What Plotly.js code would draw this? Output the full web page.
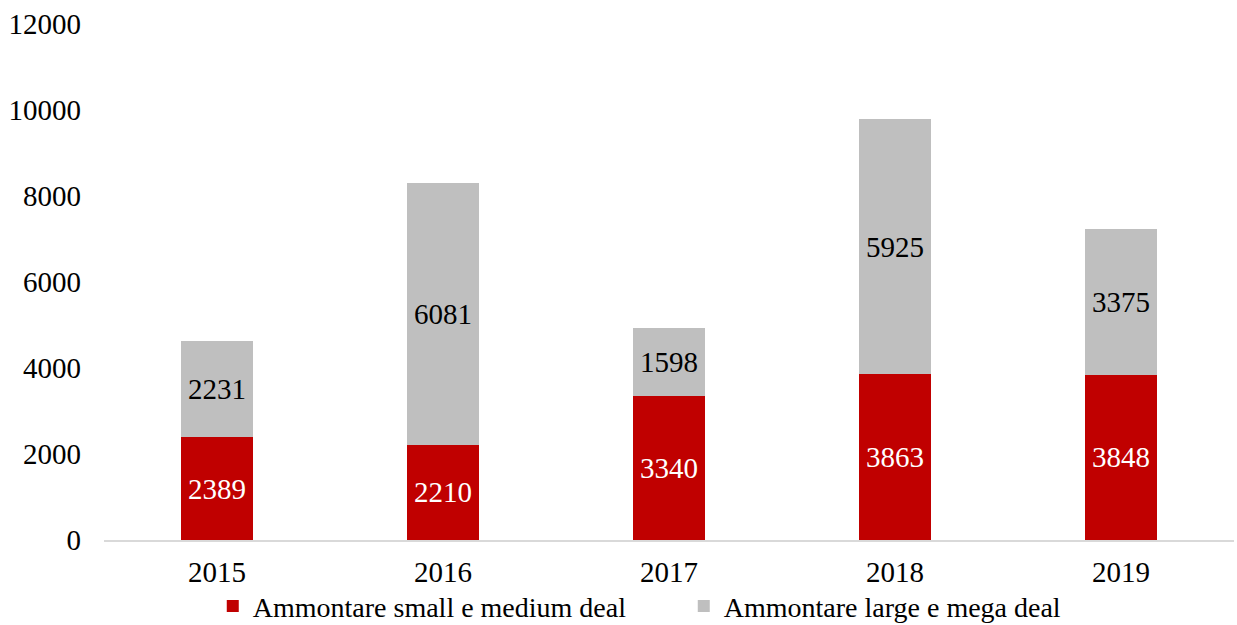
<!DOCTYPE html>
<html>
<head>
<meta charset="utf-8">
<script src="https://cdn.plot.ly/plotly-3.0.1.min.js"></script>
<style>html,body{margin:0;padding:0;background:#fff;}#chart{width:1237px;height:625px;}</style>
</head>
<body>
<div id="chart"></div>
<script>
const years = ['2015', '2016', '2017', '2018', '2019'];
const smallMedium = [2389, 2210, 3340, 3863, 3848];
const largeMega = [2231, 6081, 1598, 5925, 3375];
const yTicks = [0, 2000, 4000, 6000, 8000, 10000, 12000];

const FONT = 'Liberation Serif, DejaVu Serif, serif';

const traces = [
  {
    type: 'bar', name: 'Ammontare small e medium deal',
    x: years, y: smallMedium,
    text: smallMedium.map(String), textposition: 'inside', insidetextanchor: 'middle',
    textangle: 0, constraintext: 'none',
    textfont: {family: FONT, size: 29, color: '#ffffff'},
    marker: {color: '#c00000'}, hoverinfo: 'none'
  },
  {
    type: 'bar', name: 'Ammontare large e mega deal',
    x: years, y: largeMega,
    text: largeMega.map(String), textposition: 'inside', insidetextanchor: 'middle',
    textangle: 0, constraintext: 'none',
    textfont: {family: FONT, size: 29, color: '#000000'},
    marker: {color: '#bfbfbf'}, hoverinfo: 'none'
  }
];

const layout = {
  width: 1237, height: 625,
  margin: {l: 104, r: 3, t: 24, b: 85, autoexpand: false},
  barmode: 'stack', bargap: 0.685,
  paper_bgcolor: '#ffffff', plot_bgcolor: '#ffffff',
  font: {family: FONT, size: 29, color: '#000000'},
  showlegend: true,
  legend: {
    orientation: 'h', xref: 'container', yref: 'container',
    x: 0.172, xanchor: 'left', y: 0.03, yanchor: 'middle',
    bgcolor: 'rgba(0,0,0,0)',
    font: {family: FONT, size: 28, color: '#000000'},
    itemwidth: 30, entrywidth: 426, entrywidthmode: 'pixels',
    tracegroupgap: 0, traceorder: 'normal'
  },
  xaxis: {
    type: 'category', showgrid: false, zeroline: false,
    showline: true, linecolor: '#d9d9d9', linewidth: 2,
    ticks: '', ticklen: 0, ticklabelstandoff: 5, tickfont: {family: FONT, size: 29}
  },
  yaxis: {
    range: [0, 12000], tickvals: yTicks, ticktext: yTicks.map(String),
    showgrid: false, zeroline: false, showline: false, ticks: '',
    ticklabelstandoff: 22,
    tickfont: {family: FONT, size: 29}
  }
};

Plotly.newPlot('chart', traces, layout, {displayModeBar: false, staticPlot: true});
</script>
</body>
</html>
